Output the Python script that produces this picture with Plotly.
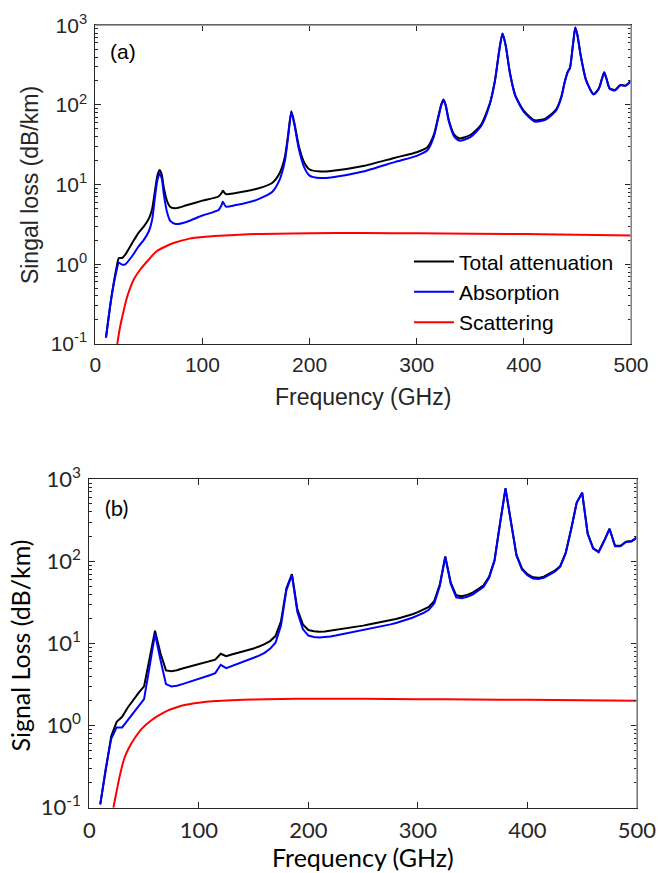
import plotly.graph_objects as go

# ---------------- Panel (a) data ----------------
freq_a = [10, 15, 20, 22, 25, 28, 35, 40, 45, 50, 53, 56, 58, 60, 62, 64, 67, 70, 75, 85,
          100, 115, 118, 119, 120, 122, 130, 150, 165, 172, 177, 180, 183, 186, 190, 195,
          200, 210, 220, 250, 280, 300, 310, 316, 320, 323, 325, 327, 330, 335, 340, 350,
          360, 368, 373, 377, 380, 383, 387, 392, 400, 410, 420, 430, 435, 438, 441, 443,
          446, 448, 450, 453, 458, 465, 470, 473, 475, 477, 480, 485, 490, 495, 500]
total_a = [0.12, 0.38, 0.93, 1.2, 1.2, 1.32, 1.9, 2.45, 2.95, 3.75, 4.9, 8.9, 13.0, 15.3, 13.5,
           9.1, 6.2, 5.25, 5.05, 5.5, 6.3, 7.1, 7.9, 8.4, 8.1, 7.6, 7.8, 8.8, 10.5, 13.9, 22.4,
           42.4, 83.4, 57.4, 30.4, 19.0, 15.5, 14.6, 14.8, 17.1, 21.8, 25.5, 29.5, 42.4, 70.4,
           102.4, 117.4, 100.4, 64.4, 42.4, 38.0, 42.0, 56.4, 102.4, 202.4, 482, 792, 562, 252,
           132, 84.4, 64.4, 67.4, 87.4, 127.4, 192.4, 262.4, 292.4, 602, 942, 752, 422, 207,
           137, 162, 217, 257, 217, 162, 154, 178, 176, 202]
absorp_a = [0.12, 0.38, 0.85, 1.05, 0.99, 1.0, 1.3, 1.65, 2.0, 2.6, 3.6, 7.5, 11.5, 13.8, 12.0,
            7.5, 4.5, 3.5, 3.2, 3.4, 4.1, 4.8, 5.6, 6.1, 5.8, 5.3, 5.5, 6.4, 8.1, 11.5, 20,
            40, 81, 55, 28, 16.5, 13.0, 12.1, 12.3, 14.6, 19.3, 23.0, 27.0, 40, 68,
            100, 115, 98, 62, 40, 35.5, 39.5, 54, 100, 200, 480, 790, 560, 250,
            130, 82, 62, 65, 85, 125, 190, 260, 290, 600, 940, 750, 420, 205,
            135, 160, 215, 255, 215, 160, 152, 176, 174, 200]
freq_scat_a = [20.5, 23, 26, 29, 32, 36, 42, 50, 57, 65, 73, 88, 100, 116, 150, 200, 250, 300, 400, 500]
scat_a = [0.1, 0.16, 0.245, 0.36, 0.48, 0.65, 0.86, 1.15, 1.45, 1.66, 1.85, 2.1, 2.2, 2.28,
          2.4, 2.46, 2.47, 2.45, 2.4, 2.3]

# ---------------- Panel (b) data ----------------
freq_b = [10, 15, 20, 25, 30, 35, 40, 45, 50, 55, 60, 65, 70, 75, 80, 85, 90, 95, 100, 105,
          110, 115, 120, 125, 130, 135, 140, 145, 150, 155, 160, 165, 170, 175, 180, 185, 190,
          195, 200, 205, 210, 215, 220, 225, 230, 235, 240, 245, 250, 255, 260, 265, 270, 275,
          280, 285, 290, 295, 300, 305, 310, 315, 320, 325, 330, 335, 340, 345, 350, 355, 360,
          365, 370, 375, 380, 385, 390, 395, 400, 405, 410, 415, 420, 425, 430, 435, 440, 445,
          450, 455, 460, 465, 470, 475, 480, 485, 490, 495, 500]
total_b = [0.11, 0.3, 0.74, 1.11, 1.28, 1.65, 2.05, 2.5, 3.0, 6.4, 14.3, 7.6, 4.7, 4.6, 4.72,
           4.95, 5.15, 5.4, 5.65, 5.85, 6.05, 6.35, 7.5, 7.0, 7.35, 7.65, 8.0, 8.3, 8.7, 9.2, 9.8,
           10.7, 12.3, 18.6, 47, 70, 26, 17.1, 14.6, 14.1, 13.9, 14.0, 14.3, 14.6, 15.0, 15.4,
           15.8, 16.2, 16.5, 17.0, 17.5, 18.0, 18.6, 19.2, 19.9, 20.7, 21.6, 22.7, 24.1, 25.6,
           27.8, 33.1, 52, 115, 55, 38.6, 37.6, 39.1, 41.6, 46, 51, 65, 104, 290, 775, 302, 120,
           82, 70, 64, 63, 65, 70, 77, 88, 128, 250, 520, 687, 219, 145, 131, 178, 250, 155, 155,
           174, 177, 196]
absorp_b = [0.11, 0.3, 0.69, 0.95, 0.95, 1.15, 1.4, 1.7, 2.1, 5.2, 13.0, 6.3, 3.2, 3.0, 3.05,
            3.2, 3.35, 3.55, 3.75, 3.9, 4.1, 4.35, 5.5, 5.0, 5.3, 5.6, 5.95, 6.25, 6.6, 7.1, 7.7,
            8.6, 10.2, 16.5, 45, 68, 24, 15.0, 12.5, 12.0, 11.8, 11.9, 12.2, 12.5, 12.9, 13.3,
            13.7, 14.1, 14.4, 14.9, 15.4, 15.9, 16.5, 17.1, 17.8, 18.6, 19.5, 20.6, 22.0, 23.5,
            25.7, 31, 50, 113, 53, 36.5, 35.5, 37, 39.5, 44, 49, 63, 102, 288, 773, 300, 118,
            80, 68, 62, 61, 63, 68, 75, 86, 126, 248, 518, 685, 217, 143, 129, 176, 248, 153, 153,
            172, 175, 194]
freq_scat_b = [22, 25, 28, 32, 36, 42, 48, 57, 65, 72, 80, 87, 100, 115, 130, 150, 175, 200,
               250, 300, 350, 400, 450, 500]
scat_b = [0.1, 0.16, 0.25, 0.4, 0.53, 0.72, 0.92, 1.17, 1.37, 1.53, 1.67, 1.78, 1.9, 1.99,
          2.04, 2.08, 2.11, 2.12, 2.12, 2.1, 2.08, 2.06, 2.03, 2.01]

x_ticks = [0, 100, 200, 300, 400, 500]
y_tickvals = [0.1, 1, 10, 100, 1000]
y_ticktext = ["10<sup>-1</sup>", "10<sup>0</sup>", "10<sup>1</sup>", "10<sup>2</sup>", "10<sup>3</sup>"]
labels = ["Total attenuation", "Absorption", "Scattering"]
colors = ["#000000", "#0000ff", "#ff0000"]

FA = "Arial, Liberation Sans, sans-serif"
FB = "Lato, Carlito, sans-serif"
TXT = "#262626"

fig = go.Figure()
fig.add_trace(go.Scatter(x=freq_a, y=total_a, name=labels[0], mode="lines",
                         line=dict(color=colors[0], width=2, shape="spline", smoothing=0.6),
                         xaxis="x", yaxis="y"))
fig.add_trace(go.Scatter(x=freq_a, y=absorp_a, name=labels[1], mode="lines",
                         line=dict(color=colors[1], width=2, shape="spline", smoothing=0.6),
                         xaxis="x", yaxis="y"))
fig.add_trace(go.Scatter(x=freq_scat_a, y=scat_a, name=labels[2], mode="lines",
                         line=dict(color=colors[2], width=2, shape="spline", smoothing=0.8),
                         xaxis="x", yaxis="y"))
fig.add_trace(go.Scatter(x=freq_b, y=total_b, name=labels[0], mode="lines", showlegend=False,
                         line=dict(color=colors[0], width=2), xaxis="x2", yaxis="y2"))
fig.add_trace(go.Scatter(x=freq_b, y=absorp_b, name=labels[1], mode="lines", showlegend=False,
                         line=dict(color=colors[1], width=2), xaxis="x2", yaxis="y2"))
fig.add_trace(go.Scatter(x=freq_scat_b, y=scat_b, name=labels[2], mode="lines", showlegend=False,
                         line=dict(color=colors[2], width=2, shape="spline", smoothing=0.8),
                         xaxis="x2", yaxis="y2"))

def xax(domain, anchor, font, standoff):
    return dict(domain=domain, anchor=anchor, range=[0, 500], tickvals=x_ticks,
                ticks="inside", ticklen=6, tickcolor=TXT, showline=True, linecolor=TXT,
                linewidth=1, mirror="ticks", showgrid=False, zeroline=False,
                automargin=False, ticklabelstandoff=standoff, tickfont=font)

def yax(domain, anchor, font, standoff):
    return dict(domain=domain, anchor=anchor, type="log", range=[-1, 3],
                tickvals=y_tickvals, ticktext=y_ticktext,
                ticks="inside", ticklen=6, tickcolor=TXT, showline=True, linecolor=TXT,
                linewidth=1, mirror="ticks", showgrid=False, zeroline=False,
                automargin=False, ticklabelstandoff=standoff,
                minor=dict(ticks="inside", ticklen=3, tickcolor=TXT, dtick="D1", showgrid=False),
                tickfont=font)

fontA = dict(family=FA, size=21, color=TXT)
fontB = dict(family=FB, size=22, color=TXT)

fig.update_layout(
    template="none",
    width=658, height=873, margin=dict(l=0, r=0, t=0, b=0, autoexpand=False),
    paper_bgcolor="white", plot_bgcolor="white",
    xaxis=xax([0.1448, 0.959], "y", fontA, 2),
    yaxis=yax([0.606, 0.971], "x", fontA, 3),
    xaxis2=xax([0.1357, 0.968], "y2", fontB, 3),
    yaxis2=yax([0.0748, 0.451], "x2", fontB, 3),
    showlegend=True,
    legend=dict(x=0.6216, y=0.7235, xanchor="left", yanchor="top",
                bgcolor="rgba(0,0,0,0)", borderwidth=0,
                font=dict(family=FA, size=21, color="#000000"),
                itemwidth=40, tracegroupgap=0),
    annotations=[
        dict(text="Frequency (GHz)", x=0.552, y=0.545, xref="paper", yref="paper",
             showarrow=False, xanchor="center", yanchor="middle",
             font=dict(family=FA, size=23, color=TXT)),
        dict(text="Singal loss (dB/km)", x=0.0456, y=0.788, xref="paper", yref="paper",
             showarrow=False, textangle=-90, xanchor="center", yanchor="middle",
             font=dict(family=FA, size=23, color=TXT)),
        dict(text="(a)", x=0.164, y=0.9405, xref="paper", yref="paper",
             showarrow=False, xanchor="left", yanchor="middle",
             font=dict(family=FA, size=21, color="#000000")),
        dict(text="Frequency (GHz)", x=0.552, y=0.0, xref="paper", yref="paper",
             showarrow=False, xanchor="center", yanchor="bottom", borderpad=0,
             font=dict(family=FB, size=25, color="#000000")),
        dict(text="Signal Loss (dB/km)", x=0.031, y=0.261, xref="paper", yref="paper",
             showarrow=False, textangle=-90, xanchor="center", yanchor="middle",
             font=dict(family=FB, size=25, color="#000000")),
        dict(text="(b)", x=0.157, y=0.419, xref="paper", yref="paper",
             showarrow=False, xanchor="left", yanchor="middle",
             font=dict(family=FB, size=22, color="#000000")),
    ],
    shapes=[
        dict(type="line", xref="x domain", yref="y domain", x0=0, x1=1, y0=1, y1=1,
             line=dict(color="#a0a0a0", width=1.5), layer="above"),
        dict(type="line", xref="x domain", yref="y domain", x0=1, x1=1, y0=0, y1=1,
             line=dict(color="#a0a0a0", width=1.5), layer="above"),
        dict(type="line", xref="x2 domain", yref="y2 domain", x0=1, x1=1, y0=0, y1=1,
             line=dict(color="#a0a0a0", width=1.5), layer="above"),
    ],
)

fig.write_html("out.html")
